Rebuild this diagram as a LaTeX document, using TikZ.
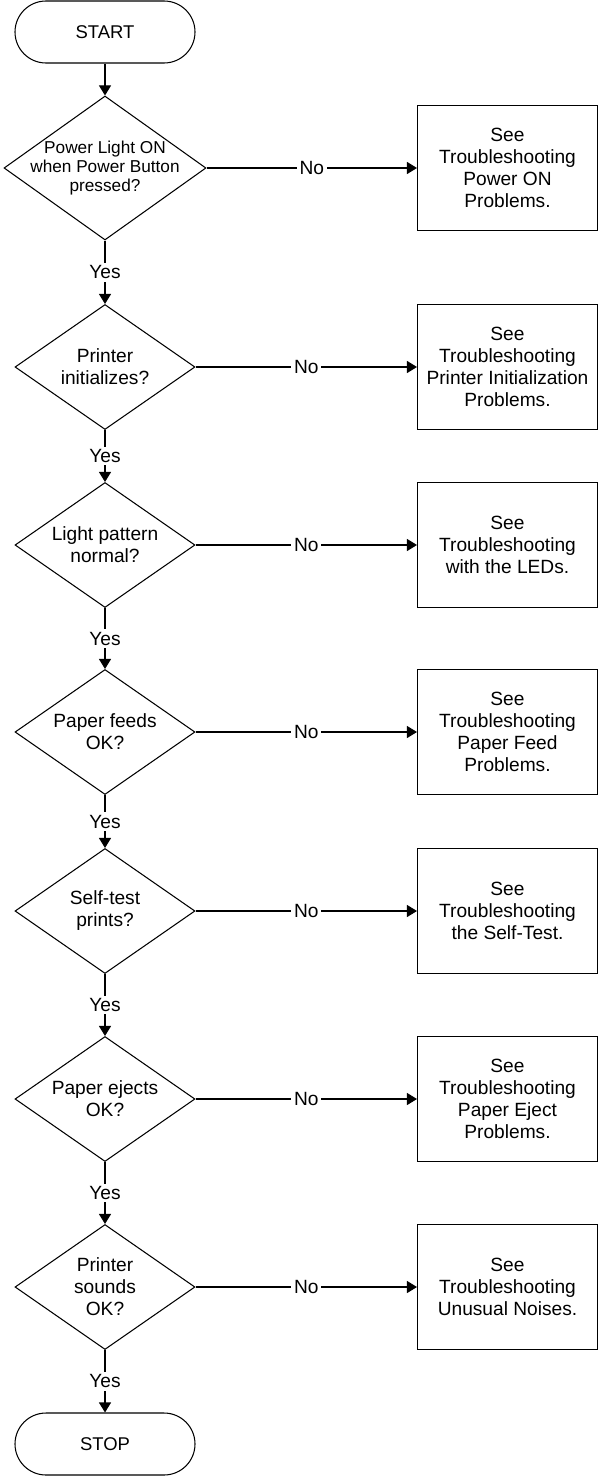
\documentclass[tikz,border=0pt]{standalone}
\usepackage{fontspec}
\setmainfont{Liberation Sans}
\usetikzlibrary{shapes.geometric, arrows.meta}

\begin{document}
\begin{tikzpicture}[
    line width=0.6pt,
    font=\fontsize{10.9pt}{12.5pt}\selectfont,
    flow/.style={-{Triangle[length=2mm, width=2.4mm]}},
    term/.style={draw, rectangle, rounded corners=0.62cm, minimum width=3.6cm, minimum height=1.24cm, inner sep=0pt, font=\fontsize{10.5pt}{12pt}\selectfont},
    decision/.style={draw, diamond, minimum width=3.6cm, minimum height=2.5cm, inner sep=0pt},
    dtext/.style={align=center, inner sep=0pt},
    seebox/.style={draw, rectangle, minimum width=3.6cm, minimum height=2.5cm, inner sep=0pt, align=center},
    answer/.style={fill=white, inner sep=1.5pt}
  ]
    \useasboundingbox (0, 0) rectangle (11.96, -29.56);

    % Left column: start, checks, stop
    \node[term] (start) at (2.1, -0.64) {START};
    \node[decision, minimum width=4.04cm, minimum height=2.88cm,
          label={[dtext, font=\fontsize{9.8pt}{11pt}\selectfont]center:Power Light ON\\when Power Button\\pressed?}] (q1) at (2.1, -3.36) {};
    \node[decision, label={[dtext]center:Printer\\initializes?}] (q2) at (2.1, -7.34) {};
    \node[decision, label={[dtext]center:Light pattern\\normal?}] (q3) at (2.1, -10.9) {};
    \node[decision, label={[dtext]center:Paper feeds\\OK?}] (q4) at (2.1, -14.64) {};
    \node[decision, label={[dtext]center:Self-test\\prints?}] (q5) at (2.1, -18.22) {};
    \node[decision, label={[dtext]center:Paper ejects\\OK?}] (q6) at (2.1, -21.98) {};
    \node[decision, label={[dtext]center:Printer\\sounds\\OK?}] (q7) at (2.1, -25.74) {};
    \node[term] (stop) at (2.1, -28.88) {STOP};

    % Right column: where to look next
    \node[seebox] (b1) at (10.15, -3.36) {See\\Troubleshooting\\Power ON\\Problems.};
    \node[seebox] (b2) at (10.15, -7.34) {See\\Troubleshooting\\Printer Initialization\\Problems.};
    \node[seebox] (b3) at (10.15, -10.9) {See\\Troubleshooting\\with the LEDs.};
    \node[seebox] (b4) at (10.15, -14.64) {See\\Troubleshooting\\Paper Feed\\Problems.};
    \node[seebox] (b5) at (10.15, -18.22) {See\\Troubleshooting\\the Self-Test.};
    \node[seebox] (b6) at (10.15, -21.98) {See\\Troubleshooting\\Paper Eject\\Problems.};
    \node[seebox] (b7) at (10.15, -25.74) {See\\Troubleshooting\\Unusual Noises.};

    % Connectors
    \draw[flow] (start) -- (q1);
    \foreach \a/\b in {q1/q2, q2/q3, q3/q4, q4/q5, q5/q6, q6/q7, q7/stop}
        \draw[flow] (\a) -- node[answer] {Yes} (\b);
    \foreach \i in {1,...,7}
        \draw[flow] (q\i) -- node[answer] {No} (b\i);
\end{tikzpicture}
\end{document}
